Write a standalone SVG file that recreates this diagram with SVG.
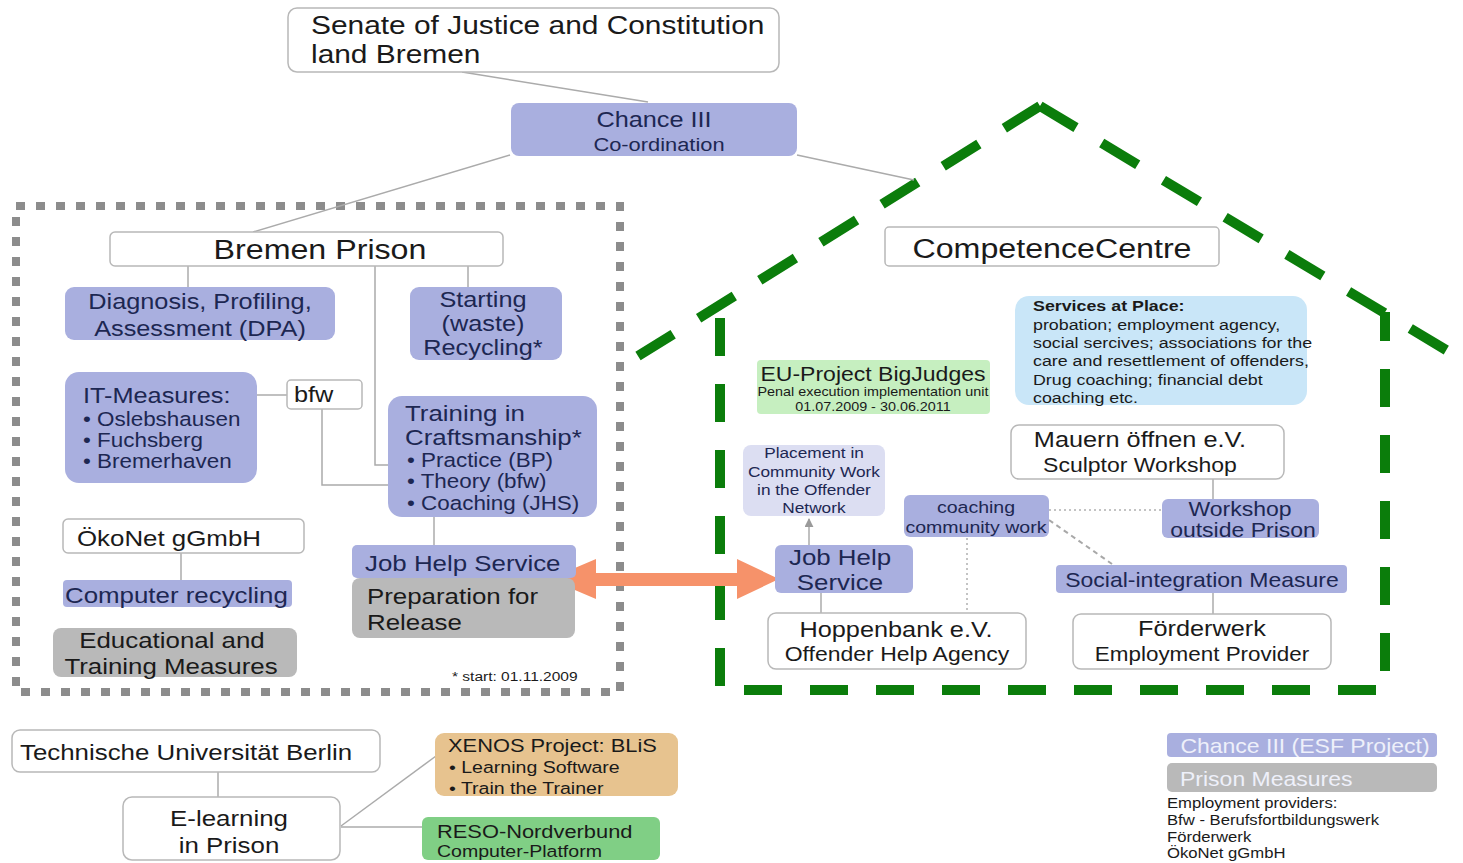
<svg xmlns="http://www.w3.org/2000/svg" width="1463" height="863" viewBox="0 0 1463 863">
<defs>
<style>
text{font-family:"Liberation Sans",Arial,Helvetica,sans-serif;fill:#1a1a1a;transform-box:fill-box;transform-origin:0 0;transform:scaleX(1.15)}
text.m{text-anchor:middle;transform-origin:50% 0}
text.n{fill:#1d2752}
text.w{fill:#eef0fa}
.box{fill:#ffffff;stroke:#b8b8b8;stroke-width:1.5}
.blue{fill:#a9afdf}
.gray{fill:#b9b9b9}
.ln{fill:none;stroke:#ababab;stroke-width:1.5}
.dot{fill:none;stroke:#b0b0b0;stroke-width:1.5;stroke-dasharray:2 3}
.dash{fill:none;stroke:#a8a8a8;stroke-width:2;stroke-dasharray:5 4}
.house{fill:none;stroke:#0b7d0b;stroke-width:10;stroke-dasharray:42 30}
.wall{fill:none;stroke:#0b7d0b;stroke-width:10;stroke-dasharray:38 28}
</style>
<marker id="ah" viewBox="0 0 10 10" refX="9" refY="5" markerWidth="6" markerHeight="6" orient="auto">
<path d="M0,0 L10,5 L0,10 z" fill="#9a9a9a"/>
</marker>
</defs>
<rect width="1463" height="863" fill="#ffffff"/>

<g id="prison-frame">
<rect x="16" y="206" width="604" height="486" fill="none" stroke="#8c8c8c" stroke-width="8" stroke-dasharray="9 11"/>
</g>

<g id="house-frame">
<path class="house" d="M1040,106 L638,356"/>
<path class="house" d="M1040,106 L1456,356"/>
<path class="wall" d="M720,318 L720,690 L1385,690 L1385,312"/>
</g>

<g id="connectors">
<path class="ln" d="M462,72 L648,102"/>
<path class="ln" d="M510,155 L253,232"/>
<path class="ln" d="M797,155 L914,180"/>
<path class="ln" d="M188,266 L188,287"/>
<path class="ln" d="M375,266 L375,465 L388,465"/>
<path class="ln" d="M468,266 L468,287"/>
<path class="ln" d="M257,395 L287,395"/>
<path class="ln" d="M322,409 L322,485 L388,485"/>
<path class="ln" d="M434,517 L434,545"/>
<path class="ln" d="M181,553 L181,580"/>
<path class="ln" d="M218,772 L218,797"/>
<path class="ln" d="M341,826 L436,756"/>
<path class="ln" d="M341,827 L422,827"/>
<path class="ln" d="M809,545 L809,519" marker-end="url(#ah)"/>
<path class="ln" d="M821,593 L821,613"/>
<path class="dot" d="M967,538 L967,613"/>
<path class="dot" d="M1049,510 L1162,510"/>
<path class="dash" d="M1049,520 L1112,564"/>
<path class="ln" d="M1213,479 L1213,499"/>
<path class="ln" d="M1213,593 L1213,614"/>
<polygon points="549,579 596,559 596,573 737,573 737,559 779,579 737,599 737,586 596,586 596,599" fill="#f6926a"/>
</g>

<g id="senate">
<rect class="box" x="288" y="8" width="491" height="64" rx="9"/>
<text x="311" y="34" font-size="26">Senate of Justice and Constitution</text>
<text x="311" y="63" font-size="26">land Bremen</text>
</g>

<g id="chance3">
<rect class="blue" x="511" y="103" width="286" height="53" rx="8"/>
<text class="m n" x="654" y="127" font-size="22">Chance III</text>
<text class="m n" x="659" y="151" font-size="19">Co-ordination</text>
</g>

<g id="bremen-prison">
<rect class="box" x="110" y="232" width="393" height="34" rx="5"/>
<text class="m" x="320" y="259" font-size="28">Bremen Prison</text>
</g>

<g id="dpa">
<rect class="blue" x="65" y="287" width="270" height="53" rx="9"/>
<text class="m n" x="200" y="309" font-size="22">Diagnosis, Profiling,</text>
<text class="m n" x="200" y="336" font-size="22">Assessment (DPA)</text>
</g>

<g id="recycling">
<rect class="blue" x="410" y="287" width="152" height="73" rx="9"/>
<text class="m n" x="483" y="307" font-size="22">Starting</text>
<text class="m n" x="483" y="331" font-size="22">(waste)</text>
<text class="m n" x="483" y="355" font-size="22">Recycling*</text>
</g>

<g id="it-measures">
<rect class="blue" x="65" y="372" width="192" height="111" rx="14"/>
<text class="n" x="83" y="403" font-size="22">IT-Measures:</text>
<text class="n" x="83" y="426" font-size="19.5">• Oslebshausen</text>
<text class="n" x="83" y="447" font-size="19.5">• Fuchsberg</text>
<text class="n" x="83" y="468" font-size="19.5">• Bremerhaven</text>
</g>

<g id="bfw">
<rect class="box" x="287" y="380" width="75" height="29" rx="4"/>
<text x="294" y="402" font-size="22">bfw</text>
</g>

<g id="training">
<rect class="blue" x="388" y="396" width="209" height="121" rx="14"/>
<text class="n" x="405" y="421" font-size="22.5">Training in</text>
<text class="n" x="405" y="445" font-size="22.5">Craftsmanship*</text>
<text class="n" x="407" y="467" font-size="19.5">• Practice (BP)</text>
<text class="n" x="407" y="488" font-size="19.5">• Theory (bfw)</text>
<text class="n" x="407" y="510" font-size="19.5">• Coaching (JHS)</text>
</g>

<g id="job-help-prison">
<rect class="blue" x="352" y="545" width="224" height="33" rx="5"/>
<text class="n" x="365" y="571" font-size="22.5">Job Help Service</text>
</g>

<g id="preparation">
<rect class="gray" x="352" y="578" width="223" height="60" rx="8"/>
<text x="367" y="604" font-size="22.5" fill="#2a2a2a">Preparation for</text>
<text x="367" y="630" font-size="22.5">Release</text>
</g>

<g id="okonet">
<rect class="box" x="63" y="519" width="241" height="34" rx="5"/>
<text x="77" y="546" font-size="22.5">ÖkoNet gGmbH</text>
</g>

<g id="computer-recycling">
<rect class="blue" x="63" y="580" width="229" height="27" rx="4"/>
<text class="n" x="65" y="603" font-size="22.5">Computer recycling</text>
</g>

<g id="educational">
<rect class="gray" x="53" y="628" width="244" height="49" rx="8"/>
<text class="m" x="172" y="648" font-size="22.5">Educational and</text>
<text class="m" x="171" y="674" font-size="22.5">Training Measures</text>
</g>

<g id="start-note">
<text x="452" y="681" font-size="13.5">* start: 01.11.2009</text>
</g>

<g id="competence-centre">
<rect class="box" x="885" y="227" width="334" height="39" rx="4"/>
<text class="m" x="1052" y="258" font-size="28">CompetenceCentre</text>
</g>

<g id="services">
<rect x="1015" y="296" width="292" height="109" rx="14" fill="#c9e6f8"/>
<text x="1033" y="311" font-size="15.5" font-weight="bold">Services at Place:</text>
<text x="1033" y="330" font-size="15.5">probation; employment agency,</text>
<text x="1033" y="348" font-size="15.5">social sercives; associations for the</text>
<text x="1033" y="366" font-size="15.5">care and resettlement of offenders,</text>
<text x="1033" y="385" font-size="15.5">Drug coaching; financial debt</text>
<text x="1033" y="403" font-size="15.5">coaching etc.</text>
</g>

<g id="eu-project">
<rect x="757" y="360" width="233" height="54" rx="4" fill="#c6efc0"/>
<text class="m" x="873" y="381" font-size="20">EU-Project BigJudges</text>
<text class="m" x="873" y="396" font-size="12.5">Penal execution implementation unit</text>
<text class="m" x="873" y="411" font-size="12.5">01.07.2009 - 30.06.2011</text>
</g>

<g id="placement">
<rect x="743" y="445" width="142" height="71" rx="8" fill="#dcdef2"/>
<text class="m n" x="814" y="458" font-size="15">Placement in</text>
<text class="m n" x="814" y="477" font-size="15">Community Work</text>
<text class="m n" x="814" y="495" font-size="15">in the Offender</text>
<text class="m n" x="814" y="513" font-size="15">Network</text>
</g>

<g id="job-help-centre">
<rect class="blue" x="775" y="545" width="138" height="48" rx="6"/>
<text class="m n" x="840" y="565" font-size="22.5">Job Help</text>
<text class="m n" x="840" y="590" font-size="22.5">Service</text>
</g>

<g id="hoppenbank">
<rect class="box" x="768" y="613" width="258" height="56" rx="8"/>
<text class="m" x="896" y="637" font-size="22">Hoppenbank e.V.</text>
<text class="m" x="897" y="661" font-size="20">Offender Help Agency</text>
</g>

<g id="coaching">
<rect class="blue" x="904" y="495" width="145" height="42" rx="6"/>
<text class="m n" x="976" y="513" font-size="17">coaching</text>
<text class="m n" x="976" y="533" font-size="17">community work</text>
</g>

<g id="mauern">
<rect class="box" x="1011" y="425" width="273" height="54" rx="8"/>
<text class="m" x="1140" y="447" font-size="22">Mauern öffnen e.V.</text>
<text class="m" x="1140" y="472" font-size="20">Sculptor Workshop</text>
</g>

<g id="workshop">
<rect class="blue" x="1162" y="499" width="157" height="39" rx="6"/>
<text class="m n" x="1240" y="516" font-size="20">Workshop</text>
<text class="m n" x="1243" y="537" font-size="20">outside Prison</text>
</g>

<g id="social-integration">
<rect class="blue" x="1056" y="565" width="291" height="28" rx="4"/>
<text class="m n" x="1202" y="587" font-size="20">Social-integration Measure</text>
</g>

<g id="forderwerk">
<rect class="box" x="1073" y="614" width="258" height="55" rx="8"/>
<text class="m" x="1202" y="636" font-size="22">Förderwerk</text>
<text class="m" x="1202" y="661" font-size="19.5">Employment Provider</text>
</g>

<g id="legend">
<rect class="blue" x="1167" y="733" width="270" height="24" rx="4"/>
<text class="m w" x="1305" y="753" font-size="20">Chance III (ESF Project)</text>
<rect class="gray" x="1167" y="763" width="270" height="29" rx="5"/>
<text class="w" x="1180" y="786" font-size="20">Prison Measures</text>
<text x="1167" y="808" font-size="14.5">Employment providers:</text>
<text x="1167" y="825" font-size="14.5">Bfw - Berufsfortbildungswerk</text>
<text x="1167" y="842" font-size="14.5">Förderwerk</text>
<text x="1167" y="858" font-size="14.5">ÖkoNet gGmbH</text>
</g>

<g id="tu-berlin">
<rect class="box" x="12" y="730" width="368" height="42" rx="8"/>
<text x="20" y="760" font-size="22.5">Technische Universität Berlin</text>
</g>

<g id="e-learning">
<rect class="box" x="123" y="797" width="217" height="63" rx="9"/>
<text class="m" x="229" y="826" font-size="22.5">E-learning</text>
<text class="m" x="229" y="853" font-size="22.5">in Prison</text>
</g>

<g id="xenos">
<rect x="435" y="733" width="243" height="63" rx="9" fill="#e7c38f"/>
<text x="448" y="752" font-size="19">XENOS Project: BLiS</text>
<text x="449" y="773" font-size="17" fill="#333">• Learning Software</text>
<text x="449" y="794" font-size="17" fill="#333">• Train the Trainer</text>
</g>

<g id="reso">
<rect x="422" y="817" width="238" height="43" rx="6" fill="#80cf85"/>
<text x="437" y="838" font-size="19" fill="#102a10">RESO-Nordverbund</text>
<text x="437" y="857" font-size="17" fill="#1d3a1d">Computer-Platform</text>
</g>
</svg>
